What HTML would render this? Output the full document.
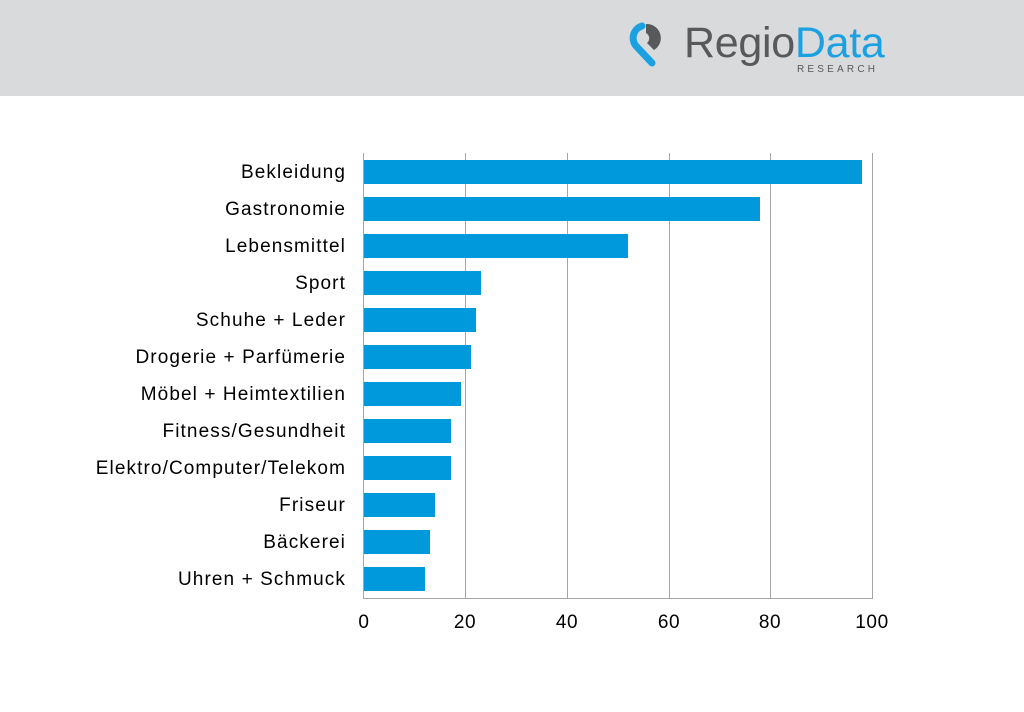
<!DOCTYPE html>
<html><head><meta charset="utf-8"><style>
html,body{margin:0;padding:0;background:#fff;}
svg{display:block;font-family:"Liberation Sans",Arial,sans-serif;}
</style></head><body>
<svg width="1024" height="712" viewBox="0 0 1024 712">
<rect x="0" y="0" width="1024" height="96" fill="#d9dadb"/>
<!-- logo icon -->
<path d="M652 63 L637 47 A12.5 12.5 0 0 1 642 26" fill="none" stroke="#1ba1e2" stroke-width="7" stroke-linecap="round"/>
<path d="M646 24 A14 14 0 0 1 654 50 L647 43 A6 6 0 0 0 646 33 Z" fill="#58595b"/>
<text x="684" y="57" font-size="43" fill="#58595b" letter-spacing="-0.3">Regio<tspan fill="#1ba1e2">Data</tspan></text>
<text x="797" y="72" font-size="10" fill="#58595b" letter-spacing="3.2">RESEARCH</text>
<!-- grid -->
<g stroke="#a6a6a6" stroke-width="1">
<line x1="465.5" y1="153" x2="465.5" y2="598"/>
<line x1="567.5" y1="153" x2="567.5" y2="598"/>
<line x1="669.5" y1="153" x2="669.5" y2="598"/>
<line x1="770.5" y1="153" x2="770.5" y2="598"/>
<line x1="872.5" y1="153" x2="872.5" y2="598"/>
<line x1="363.5" y1="153" x2="363.5" y2="598"/>
<line x1="363" y1="598.5" x2="873" y2="598.5"/>
</g>
<g fill="#0099dc">
<rect x="364" y="160" width="498" height="24"/>
<rect x="364" y="197" width="396" height="24"/>
<rect x="364" y="234" width="264" height="24"/>
<rect x="364" y="271" width="117" height="24"/>
<rect x="364" y="308" width="112" height="24"/>
<rect x="364" y="345" width="107" height="24"/>
<rect x="364" y="382" width="97" height="24"/>
<rect x="364" y="419" width="87" height="24"/>
<rect x="364" y="456" width="87" height="24"/>
<rect x="364" y="493" width="71" height="24"/>
<rect x="364" y="530" width="66" height="24"/>
<rect x="364" y="567" width="61" height="24"/>
</g>
<g font-size="19" fill="#000" text-anchor="end" letter-spacing="1.1">
<text x="346" y="178">Bekleidung</text>
<text x="346" y="215">Gastronomie</text>
<text x="346" y="252">Lebensmittel</text>
<text x="346" y="289">Sport</text>
<text x="346" y="326">Schuhe + Leder</text>
<text x="346" y="363">Drogerie + Parfümerie</text>
<text x="346" y="400">Möbel + Heimtextilien</text>
<text x="346" y="437">Fitness/Gesundheit</text>
<text x="346" y="474">Elektro/Computer/Telekom</text>
<text x="346" y="511">Friseur</text>
<text x="346" y="548">Bäckerei</text>
<text x="346" y="585">Uhren + Schmuck</text>
</g>
<g font-size="19" fill="#000" text-anchor="middle" letter-spacing="0.6">
<text x="364" y="628">0</text>
<text x="465" y="628">20</text>
<text x="567" y="628">40</text>
<text x="669" y="628">60</text>
<text x="770" y="628">80</text>
<text x="872" y="628">100</text>
</g>
</svg>
</body></html>
